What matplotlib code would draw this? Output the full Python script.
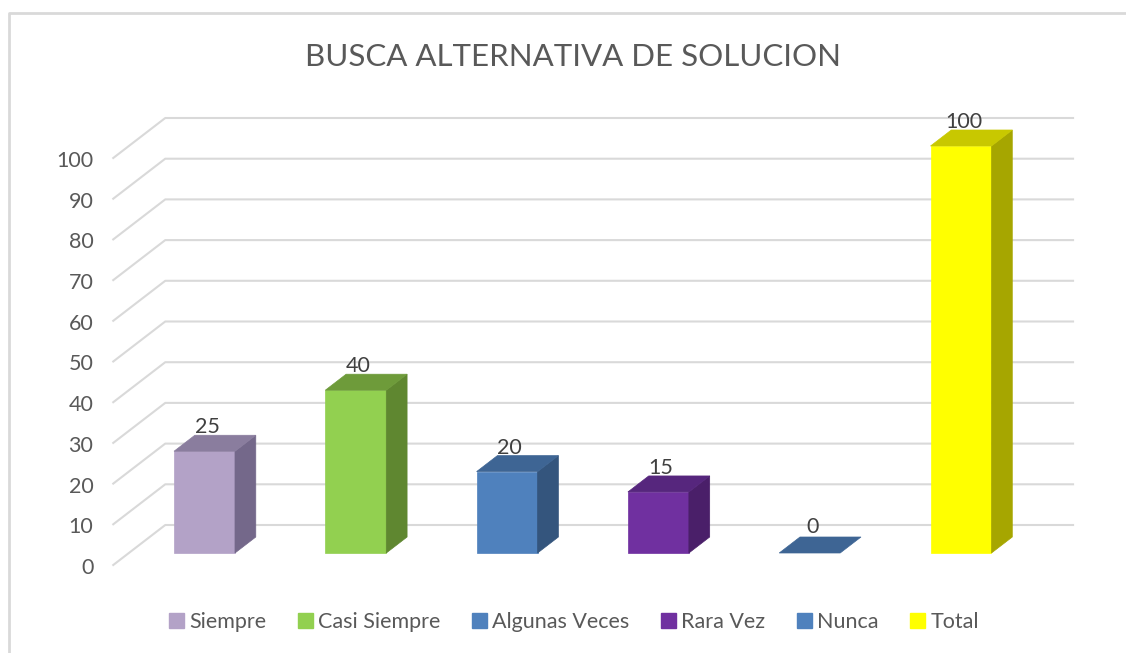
import matplotlib.pyplot as plt
from matplotlib.lines import Line2D
from matplotlib.patches import Patch, Polygon
from matplotlib.transforms import IdentityTransform

categories = ["Siempre", "Casi Siempre", "Algunas Veces", "Rara Vez", "Nunca", "Total"]
values = [25, 40, 20, 15, 0, 100]
front_colors = ["#B3A2C7", "#92D050", "#4F81BD", "#7030A0", "#4F81BD", "#FFFF00"]
side_colors = ["#74688A", "#5F8730", "#34557D", "#4A1F69", "#34557D", "#A6A600"]
top_colors = ["#8A7D9E", "#6E9B3A", "#3E6594", "#56267D", "#3E6594", "#C8C800"]
y_ticks = list(range(0, 101, 10))
title = "BUSCA ALTERNATIVA DE SOLUCION"

plt.rcParams["font.family"] = ["Lato", "DejaVu Sans"]

W, H = 1126, 653
fig = plt.figure(figsize=(W / 100, H / 100), dpi=100)
fig.patch.set_facecolor("white")

# axes = front plane of the bars; depth is faked with pixel offsets
ax = fig.add_axes([128.85 / W, (H - 553) / H, 907.8 / W, 407 / H])
ax.set_xlim(-0.5, len(categories) - 0.5)
ax.set_ylim(0, 100)
ax.set_autoscale_on(False)
ax.axis("off")

ident = IdentityTransform()
half_w = 0.2015
bar_depth = (20.8, 16.0)
grid_back = (36.4, 28.0)
grid_front = (-15.6, -12.0)
grid_color = "#D9D9D9"
text_color = "#595959"


def px(x, y, off=(0.0, 0.0)):
    p = ax.transData.transform((x, y))
    return (p[0] + off[0], p[1] + off[1])


def poly(points, color, z):
    fig.add_artist(Polygon(points, closed=True, facecolor=color, edgecolor=color,
                           linewidth=0.5, transform=ident, zorder=z))


# gridlines: slanted side wall + back wall
x_lo, x_hi = -0.5, len(categories) - 0.5
for v in y_ticks:
    p0 = px(x_lo, v, grid_front)
    p1 = px(x_lo, v, grid_back)
    p2 = px(x_hi, v, grid_back)
    fig.add_artist(Line2D([p0[0], p1[0], p2[0]], [p0[1], p1[1], p2[1]],
                          color=grid_color, linewidth=1.5, transform=ident, zorder=1))
    fig.text(p0[0] - 20, p0[1] - 3, str(v), transform=ident, ha="right", va="center",
             fontsize=15.5, color=text_color)

# bars
for i, v in enumerate(values):
    l, r = i - half_w, i + half_w
    if v > 0:
        poly([px(l, 0), px(r, 0), px(r, v), px(l, v)], front_colors[i], 3)
        poly([px(r, 0), px(r, 0, bar_depth), px(r, v, bar_depth), px(r, v)], side_colors[i], 3)
    poly([px(l, v), px(r, v), px(r, v, bar_depth), px(l, v, bar_depth)], top_colors[i], 3)
    lx, ly = px(i, v, (2.5, 24 if v > 0 else 26))
    fig.text(lx, ly, str(v), transform=ident, ha="center", va="center",
             fontsize=15.5, color="#404040", zorder=4)

fig.text(573 / W, 1 - 57 / H, title, ha="center", va="center", fontsize=22.5, color=text_color)

handles = [Patch(facecolor=c, edgecolor=c) for c in front_colors]
fig.legend(handles, categories, loc="center", bbox_to_anchor=(574 / W, 1 - 622 / H),
           ncol=len(categories), frameon=False, fontsize=15.5, handlelength=0.7,
           handleheight=0.7, handletextpad=0.25, columnspacing=1.45, labelcolor=text_color)

# chart border (left and top edges visible)
fig.add_artist(Line2D([9, 9, W], [0, H - 13, H - 13], color=grid_color, linewidth=2,
                      transform=ident, zorder=1))

fig.savefig("out.png", dpi=100)
